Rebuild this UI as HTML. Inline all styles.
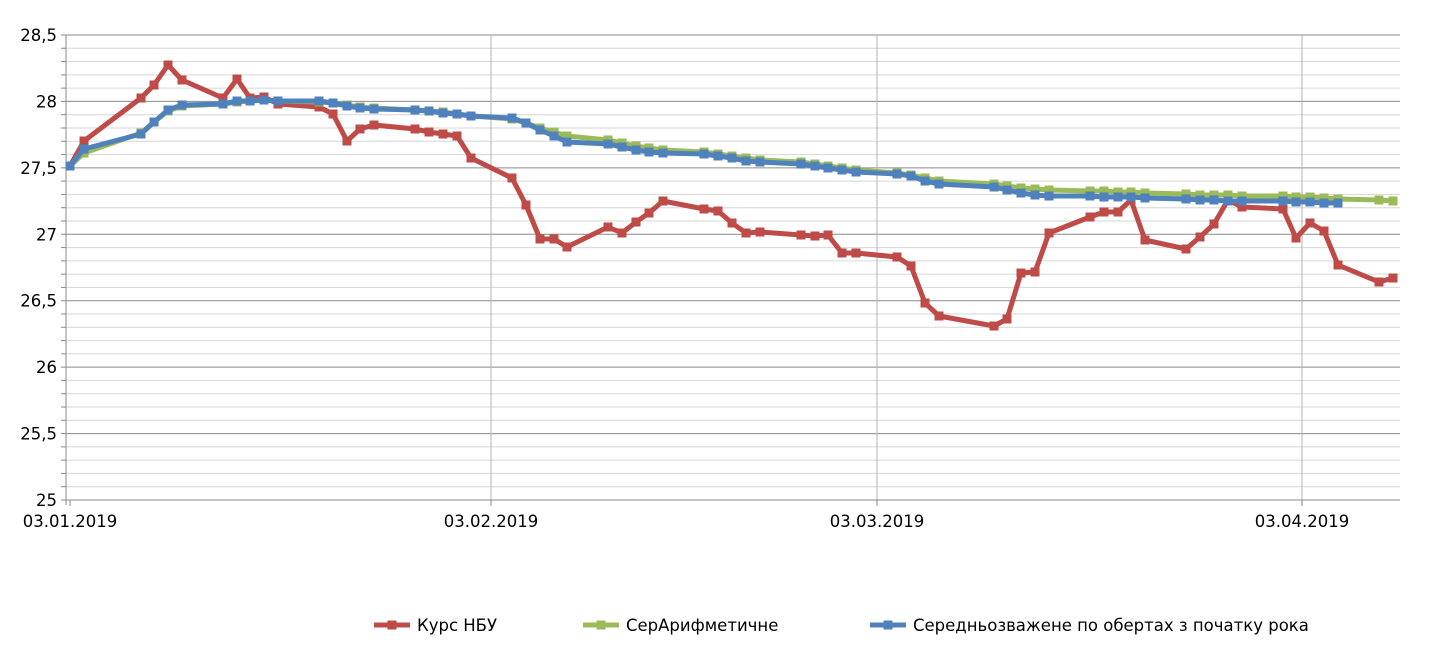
<!DOCTYPE html>
<html><head><meta charset="utf-8"><style>
html,body{margin:0;padding:0;background:#fff;}
svg text{font-family:"DejaVu Sans",sans-serif;font-size:16.5px;fill:#000;}
</style></head><body>
<svg id="c" width="1430" height="662" xmlns="http://www.w3.org/2000/svg"></svg>
<script>
const s=document.getElementById('c');let h='';
const Y=v=>500-(v-25)*132.86;
for(let i=0;i<=35;i++){const y=Y(25+i*0.1);h+=`<line x1="66" x2="1400" y1="${y}" y2="${y}" stroke="${i%5==0?'#8a8a8a':'#d6d6d6'}" stroke-width="1"/>`;}
[491,877,1302].forEach(x=>h+=`<line x1="${x}" x2="${x}" y1="35" y2="500" stroke="#b3b3b3"/>`);
h+=`<line x1="66" x2="66" y1="35" y2="505" stroke="#8a8a8a"/><line x1="66" x2="1400" y1="500" y2="500" stroke="#8a8a8a"/>`;
for(let i=0;i<=35;i++){const y=Y(25+i*0.1);h+=`<line x1="61" x2="66" y1="${y}" y2="${y}" stroke="#8a8a8a"/>`;}
['25','25,5','26','26,5','27','27,5','28','28,5'].forEach((t,i)=>h+=`<text x="57" y="${Y(25+i*0.5)+6}" text-anchor="end">${t}</text>`);
[[70,'03.01.2019'],[491,'03.02.2019'],[877,'03.03.2019'],[1302,'03.04.2019']].forEach(([x,t])=>h+=`<line x1="${x}" x2="${x}" y1="500" y2="506" stroke="#8a8a8a"/><text x="${x}" y="527" text-anchor="middle">${t}</text>`);
const xs=[70,84,141,154,168,182,223,237,250,264,278,319,333,347,360,374,415,429,443,457,471,512,526,540,554,567,608,622,636,649,663,704,718,732,746,760,801,815,828,842,856,897,911,925,939,994,1007,1021,1035,1049,1090,1104,1118,1131,1145,1186,1200,1214,1228,1242,1283,1296,1310,1324,1338,1379,1393];
const red=[166,141,98,85,65,80,98,79,98,97,104,107,114,141,129,125,129,132,134,136,158,178,205,239,239,247,227,233,222,213,201,209,211,223,233,232,235,236,235,253,253,257,266,303,316,326,319,273,272,233,217,212,212,200,240,249,237,224,200,207,209,238,223,231,265,282,278];
const green=[166,153,133,122,111,106,104,102,101,100,101,102,103,105,107,108,110,111,112,114,116,119,123,128,132,136,140,143,146,148,150,152,154,156,158,160,162,164,166,168,170,173,175,178,181,184,186,188,189,190,191,191,192,192,193,194,195,195,195,196,196,197,197,198,199,200,201];
const blue=[166,149,134,122,110,105,104,101,101,100,101,101,103,106,108,109,110,111,113,114,116,118,123,130,136,142,144,147,150,152,153,154,156,158,161,162,164,166,168,170,172,174,176,181,184,187,190,193,195,196,196,197,197,197,198,199,200,200,201,201,201,202,202,203,203];
function ser(d,c){const p=d.map((y,i)=>xs[i]+','+y).join(' ');h+=`<polyline points="${p}" fill="none" stroke="${c}" stroke-width="5" stroke-linejoin="round"/>`;d.forEach((y,i)=>h+=`<rect x="${xs[i]-4.5}" y="${y-4.5}" width="9" height="9" fill="${c}"/>`);}
ser(red,'#be4b48');ser(green,'#9bbb59');ser(blue,'#4f81bd');
function leg(x,c,t){h+=`<line x1="${x}" x2="${x+36}" y1="625" y2="625" stroke="${c}" stroke-width="5"/><rect x="${x+13.5}" y="620.5" width="9" height="9" fill="${c}"/><text x="${x+43}" y="631">${t}</text>`;}
leg(374,'#be4b48','Курс НБУ');leg(583,'#9bbb59','СерАрифметичне');leg(870,'#4f81bd','Середньозважене по обертах з початку рока');
s.innerHTML=h;
</script>
</body></html>
